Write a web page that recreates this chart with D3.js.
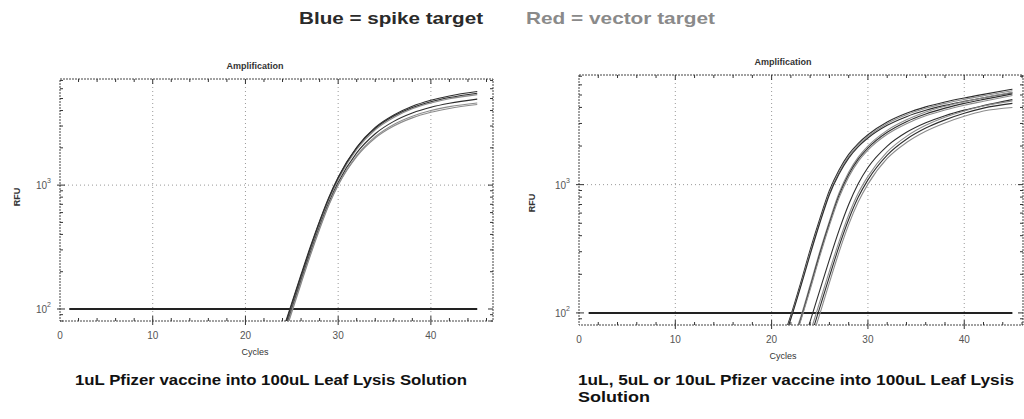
<!DOCTYPE html>
<html>
<head>
<meta charset="utf-8">
<script src="https://cdn.jsdelivr.net/npm/d3@7/dist/d3.min.js"></script>
<style>
    body { margin: 0; background: #fff; }
    svg { display: block; font-family: "Liberation Sans", Arial, sans-serif; }
</style>
</head>
<body>
<svg id="chart" width="1024" height="419"></svg>
<script>
// cycles sampled for every curve
var cycles = [20, 21, 22, 23, 24, 25, 26, 27, 28, 29, 30, 32, 34, 36, 38, 40, 42, 45];

// left plot: 1uL
var leftSpike = [
    [8, 14, 24, 40, 66, 112, 190, 318, 515, 800, 1160, 2020, 2920, 3680, 4330, 4840, 5250, 5700],
    [7, 12, 21, 35, 59, 100, 170, 285, 465, 725, 1050, 1820, 2600, 3270, 3820, 4250, 4580, 4950],
    [8, 14, 23, 39, 64, 109, 185, 310, 505, 785, 1140, 2000, 2870, 3610, 4230, 4710, 5090, 5520]
];
var leftVector = [
    [7, 13, 22, 37, 62, 105, 178, 300, 490, 765, 1110, 1940, 2800, 3520, 4130, 4600, 4980, 5380],
    [6, 11, 19, 33, 55, 94, 160, 270, 440, 690, 1000, 1700, 2400, 3000, 3490, 3870, 4160, 4470],
    [6, 12, 20, 34, 57, 97, 165, 276, 450, 700, 1010, 1730, 2460, 3090, 3600, 4000, 4300, 4600]
];

// right plot: 1uL, 5uL, 10uL
var rightSpike = [
    [36, 58, 96, 170, 310, 540, 900, 1300, 1720, 2100, 2450, 3080, 3600, 4040, 4410, 4740, 5060, 5550],
    [33, 54, 90, 158, 285, 500, 835, 1210, 1610, 1980, 2310, 2900, 3390, 3800, 4150, 4460, 4760, 5200],
    [19, 32, 53, 88, 158, 288, 500, 825, 1200, 1580, 1930, 2560, 3100, 3560, 3950, 4300, 4620, 5100],
    [11, 18, 30, 50, 86, 150, 260, 440, 700, 1020, 1360, 2000, 2560, 3040, 3450, 3810, 4130, 4600],
    [8, 13, 22, 36, 63, 110, 192, 330, 535, 800, 1090, 1700, 2260, 2760, 3200, 3600, 3950, 4300]
];
var rightVector = [
    [34, 56, 92, 162, 295, 515, 860, 1250, 1660, 2040, 2380, 3000, 3510, 3940, 4300, 4620, 4930, 5400],
    [20, 34, 56, 92, 165, 300, 520, 860, 1250, 1640, 2000, 2650, 3200, 3680, 4080, 4430, 4760, 5250],
    [18, 31, 51, 86, 152, 276, 480, 790, 1150, 1520, 1860, 2470, 2990, 3440, 3820, 4160, 4470, 4950],
    [9, 15, 24, 40, 70, 122, 212, 360, 580, 860, 1160, 1800, 2380, 2900, 3350, 3750, 4100, 4500],
    [7, 12, 20, 33, 57, 98, 172, 298, 488, 735, 1010, 1600, 2130, 2610, 3030, 3410, 3750, 4000]
];

var thresholdCycles = [1, 45];
var thresholdRFU = 100;
var xTickValues = [0, 10, 20, 30, 40];
var yTickValues = [100, 1000];

var legendTexts = ['Blue = spike target', 'Red = vector target'];
var captionLeft = ['1uL Pfizer vaccine into 100uL Leaf Lysis Solution'];
var captionRight = ['1uL, 5uL or 10uL Pfizer vaccine into 100uL Leaf Lysis', 'Solution'];

var svg = d3.select('#chart');
var spikeColor = '#2e2e2e';
var vectorColor = '#8c8c8c';

svg.append('text').attr('x', 299).attr('y', 24)
    .attr('font-size', '17px').attr('font-weight', 'bold').attr('fill', '#2a2a2a')
    .attr('textLength', 184).attr('lengthAdjust', 'spacingAndGlyphs')
    .text(legendTexts[0]);
svg.append('text').attr('x', 526).attr('y', 24)
    .attr('font-size', '17px').attr('font-weight', 'bold').attr('fill', '#8a8a8a')
    .attr('textLength', 189).attr('lengthAdjust', 'spacingAndGlyphs')
    .text(legendTexts[1]);

function drawPlot(id, box, spike, vector, caption) {
    var x = d3.scaleLinear().domain(box.xDomain).range([box.left, box.right]);
    var y = d3.scaleLog().domain(box.yDomain).range([box.bottom, box.top]);
    var g = svg.append('g');

    g.append('clipPath').attr('id', id + '-clip')
        .append('rect').attr('x', box.left).attr('y', box.top)
        .attr('width', box.right - box.left).attr('height', box.bottom - box.top);

    // dotted grid
    xTickValues.slice(1).forEach(function (t) {
        g.append('line').attr('x1', x(t)).attr('x2', x(t)).attr('y1', box.top).attr('y2', box.bottom)
            .attr('stroke', '#999').attr('stroke-dasharray', '1,3');
    });
    g.append('line').attr('x1', box.left).attr('x2', box.right).attr('y1', y(1000)).attr('y2', y(1000))
        .attr('stroke', '#999').attr('stroke-dasharray', '1,3');

    // frame
    g.append('rect').attr('x', box.left).attr('y', box.top)
        .attr('width', box.right - box.left).attr('height', box.bottom - box.top)
        .attr('fill', 'none').attr('stroke', '#444').attr('stroke-dasharray', '2,1');

    // ticks: minor every 2 cycles, log minors on y
    var xMinor = d3.range(2, box.xDomain[1], 2);
    xMinor.forEach(function (t) {
        var major = t % 10 === 0;
        g.append('line').attr('x1', x(t)).attr('x2', x(t))
            .attr('y1', box.bottom + (major ? 4 : 0)).attr('y2', box.bottom - (major ? 5 : 3))
            .attr('stroke', '#333');
        g.append('line').attr('x1', x(t)).attr('x2', x(t))
            .attr('y1', box.top).attr('y2', box.top + (major ? 5 : 3))
            .attr('stroke', '#333');
    });
    y.ticks().forEach(function (t) {
        var major = yTickValues.indexOf(t) >= 0;
        var len = major ? 5 : 3;
        g.append('line').attr('x1', box.left - (major ? 3 : 0)).attr('x2', box.left + len)
            .attr('y1', y(t)).attr('y2', y(t)).attr('stroke', '#333');
        g.append('line').attr('x1', box.right - len).attr('x2', box.right)
            .attr('y1', y(t)).attr('y2', y(t)).attr('stroke', '#333');
    });

    // tick labels
    g.selectAll('.xl').data(xTickValues).enter().append('text')
        .attr('x', function (d) { return x(d); }).attr('y', box.bottom + 18)
        .attr('text-anchor', 'middle').attr('font-size', '10px').attr('fill', '#555')
        .text(function (d) { return d; });
    yTickValues.forEach(function (t) {
        var lab = g.append('text').attr('x', box.left - 9).attr('y', y(t) + 4)
            .attr('text-anchor', 'end').attr('font-size', '10px').attr('fill', '#555');
        lab.append('tspan').text('10');
        lab.append('tspan').attr('dy', -6).attr('font-size', '7px').text(Math.log10(t));
    });

    g.append('text').attr('x', box.titleX).attr('y', box.top - 10)
        .attr('text-anchor', 'middle').attr('font-size', '9px').attr('font-weight', 'bold')
        .attr('fill', '#333').text('Amplification');
    g.append('text').attr('x', box.titleX).attr('y', box.bottom + 34)
        .attr('text-anchor', 'middle').attr('font-size', '9px').attr('fill', '#333').text('Cycles');
    g.append('text').attr('transform', 'translate(' + box.rfuX + ',' + box.rfuY + ') rotate(-90)')
        .attr('text-anchor', 'middle').attr('font-size', '9px').attr('font-weight', 'bold')
        .attr('fill', '#333').text('RFU');

    var line = d3.line()
        .x(function (d, i) { return x(cycles[i]); })
        .y(function (d) { return y(d); })
        .curve(d3.curveMonotoneX);

    var curves = g.append('g').attr('clip-path', 'url(#' + id + '-clip)');
    curves.append('line')
        .attr('x1', x(thresholdCycles[0])).attr('x2', x(thresholdCycles[1]))
        .attr('y1', y(thresholdRFU)).attr('y2', y(thresholdRFU))
        .attr('stroke', '#222').attr('stroke-width', 2);
    spike.forEach(function (s, i) {
        curves.append('path').attr('d', line(s)).attr('fill', 'none')
            .attr('stroke', spikeColor).attr('stroke-width', 1.1);
        curves.append('path').attr('d', line(vector[i])).attr('fill', 'none')
            .attr('stroke', vectorColor).attr('stroke-width', 1.1);
    });

    caption.forEach(function (c, i) {
        g.append('text').attr('x', box.capX).attr('y', 385 + i * 17)
            .attr('font-size', '15px').attr('font-weight', 'bold').attr('fill', '#111')
            .attr('textLength', box.capW[i]).attr('lengthAdjust', 'spacingAndGlyphs')
            .text(c);
    });
}

drawPlot('left', {
    left: 60, right: 493, top: 79, bottom: 321,
    xDomain: [0, 46.7], yDomain: [80, 7190],
    titleX: 255, rfuX: 20, rfuY: 197, capX: 75, capW: [392]
}, leftSpike, leftVector, captionLeft);

drawPlot('right', {
    left: 579, right: 1023, top: 75, bottom: 325,
    xDomain: [0, 46.1], yDomain: [80.5, 7160],
    titleX: 783, rfuX: 535, rfuY: 203, capX: 578, capW: [436, 72]
}, rightSpike, rightVector, captionRight);
</script>
</body>
</html>
